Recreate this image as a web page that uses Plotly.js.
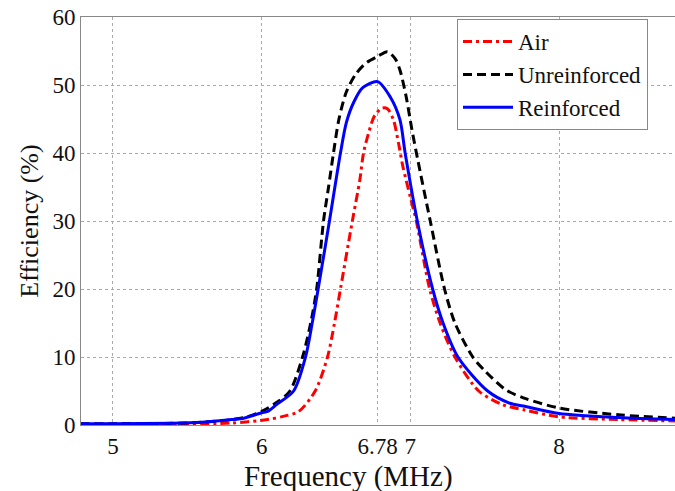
<!DOCTYPE html>
<html>
<head>
<meta charset="utf-8">
<script src="https://cdn.plot.ly/plotly-3.0.1.min.js"></script>
<style>html,body{margin:0;padding:0;background:#fff;}#chart{width:675px;height:491px;}</style>
</head>
<body>
<div id="chart"></div>
<script>
// Frequency (MHz) and efficiency (%) for each series
const airFreq = [4.78, 5.0, 5.5, 5.8, 6.04, 6.15, 6.25, 6.36, 6.443, 6.49, 6.53, 6.61, 6.66, 6.685, 6.72, 6.76, 6.81, 6.846, 6.886, 6.92, 6.95, 7.0, 7.04, 7.13, 7.2, 7.30, 7.46, 7.62, 7.77, 8.0, 8.4, 8.78];
const airEff  = [0.1, 0.1, 0.15, 0.3, 0.8, 1.3, 2.0, 5, 10, 15, 20, 30, 36, 40, 43, 45.5, 46.6, 46.5, 44.9, 41.5, 38, 33.5, 30, 20, 15, 10, 5, 3, 2.2, 1.2, 0.8, 0.6];

const unrFreq = [4.78, 5.0, 5.4, 5.6, 5.8, 5.9, 6.0, 6.1, 6.19, 6.275, 6.33, 6.37, 6.416, 6.45, 6.483, 6.52, 6.57, 6.63, 6.7, 6.78, 6.846, 6.9, 6.93, 6.97, 7.01, 7.05, 7.134, 7.23, 7.3, 7.42, 7.5, 7.64, 7.76, 8.0, 8.4, 8.78];
const unrEff  = [0.2, 0.2, 0.25, 0.4, 0.8, 1.2, 2.0, 3.3, 5.0, 10, 15, 20, 30, 35, 40, 45, 49, 51.5, 53.2, 54.2, 54.9, 53.8, 52.2, 48.5, 43.5, 39, 30, 20, 15, 10, 8.0, 5.2, 4.0, 2.5, 1.5, 1.0];

const reiFreq = [4.78, 5.0, 5.4, 5.6, 5.8, 5.88, 6.0, 6.04, 6.1, 6.215, 6.295, 6.34, 6.38, 6.456, 6.53, 6.57, 6.62, 6.68, 6.78, 6.866, 6.93, 6.965, 7.047, 7.15, 7.22, 7.32, 7.52, 7.67, 7.76, 8.0, 8.4, 8.78];
const reiEff  = [0.2, 0.2, 0.25, 0.4, 0.8, 1.0, 1.8, 2.0, 3.0, 5, 10, 15, 20, 30, 40, 44.5, 47.5, 49.6, 50.5, 48.2, 44.9, 40, 30, 20, 15, 10, 5, 3.2, 2.8, 1.7, 1.1, 0.8];

const xTickVals = [5, 6, 6.78, 7, 8];
const xTickText = ['5', '6', '6.78', '7', '8'];
const yTickVals = [0, 10, 20, 30, 40, 50, 60];

const serif = 'Liberation Serif, Times New Roman, serif';

const traces = [
  {x: airFreq, y: airEff, name: 'Air', mode: 'lines', line: {color: '#ff0000', width: 3, dash: '9px,4px,3px,4px', shape: 'spline', smoothing: 0.8}},
  {x: unrFreq, y: unrEff, name: 'Unreinforced', mode: 'lines', line: {color: '#000000', width: 3, dash: '9px,5px', shape: 'spline', smoothing: 0.8}},
  {x: reiFreq, y: reiEff, name: 'Reinforced', mode: 'lines', line: {color: '#0000ff', width: 3, shape: 'spline', smoothing: 0.8}}
];

const layout = {
  width: 675, height: 491,
  margin: {l: 81, r: 0, t: 17, b: 66},
  paper_bgcolor: '#ffffff', plot_bgcolor: '#ffffff',
  font: {family: serif, color: '#111', size: 23},
  showlegend: true,
  legend: {x: 0.633, y: 0.995, xanchor: 'left', yanchor: 'top', bgcolor: '#ffffff', bordercolor: '#888', borderwidth: 1, font: {family: serif, size: 23, color: '#111'}, tracegroupgap: 0, itemwidth: 50},
  xaxis: {
    range: [4.785, 8.78], tickvals: xTickVals, ticktext: xTickText,
    showgrid: true, gridcolor: '#aaaaaa', griddash: 'dot', gridwidth: 1,
    showline: true, linecolor: '#888', linewidth: 1, mirror: true,
    zeroline: false, ticks: '', tickfont: {family: serif, size: 23}
  },
  yaxis: {
    range: [0, 60], tickvals: yTickVals,
    showgrid: true, gridcolor: '#aaaaaa', griddash: 'dot', gridwidth: 1,
    showline: true, linecolor: '#888', linewidth: 1,
    zeroline: false, ticks: '', tickfont: {family: serif, size: 23},
    title: {text: 'Efficiency (%)', font: {family: serif, size: 26}, standoff: 6}
  },
  annotations: [{
    text: 'Frequency (MHz)', xref: 'paper', yref: 'paper', x: 0.451, y: -0.127, xanchor: 'center', yanchor: 'middle',
    showarrow: false, font: {family: serif, size: 29, color: '#111'}
  }]
};

Plotly.newPlot('chart', traces, layout, {displayModeBar: false, staticPlot: true});
</script>
</body>
</html>
